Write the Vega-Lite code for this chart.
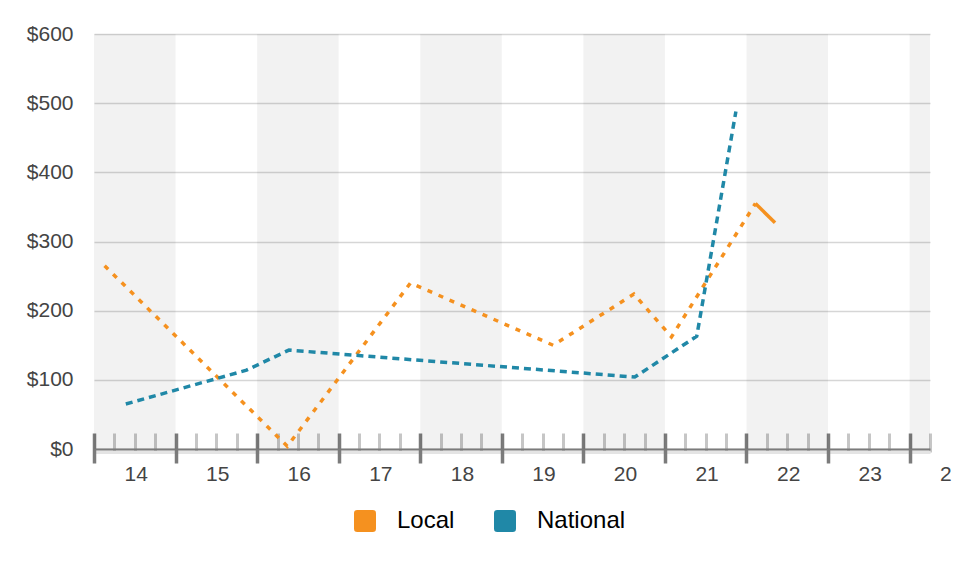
{
  "$schema": "https://vega.github.io/schema/vega-lite/v6.json",
  "width": 836,
  "height": 415,
  "autosize": {"type": "none"},
  "padding": {"left": 94, "top": 34, "right": 36, "bottom": 122},
  "config": {
    "view": {"stroke": null},
    "font": "Liberation Sans",
    "axis": {"zindex": 0, "labelFont": "Liberation Sans"}
  },
  "datasets": {
    "bands": [
      {"start": 14, "end": 15},
      {"start": 16, "end": 17},
      {"start": 18, "end": 19},
      {"start": 20, "end": 21},
      {"start": 22, "end": 23},
      {"start": 24, "end": 24.25}
    ],
    "prices": [
      {"series": "Local", "style": "dotted", "day": 14.13, "value": 265},
      {"series": "Local", "style": "dotted", "day": 16.37, "value": 4},
      {"series": "Local", "style": "dotted", "day": 17.88, "value": 240},
      {"series": "Local", "style": "dotted", "day": 19.63, "value": 150},
      {"series": "Local", "style": "dotted", "day": 20.62, "value": 224},
      {"series": "Local", "style": "dotted", "day": 21.08, "value": 162},
      {"series": "Local", "style": "dotted", "day": 22.11, "value": 355},
      {"series": "Local", "style": "solid", "day": 22.11, "value": 355},
      {"series": "Local", "style": "solid", "day": 22.35, "value": 327},
      {"series": "National", "style": "dotted", "day": 14.39, "value": 65},
      {"series": "National", "style": "dotted", "day": 15.87, "value": 114},
      {"series": "National", "style": "dotted", "day": 16.39, "value": 143},
      {"series": "National", "style": "dotted", "day": 20.63, "value": 104},
      {"series": "National", "style": "dotted", "day": 21.39, "value": 163},
      {"series": "National", "style": "dotted", "day": 21.87, "value": 488}
    ]
  },
  "layer": [
    {
      "data": {"name": "bands"},
      "mark": {"type": "rect", "fill": "#000000", "fillOpacity": 0.05},
      "encoding": {
        "x": {
          "field": "start",
          "type": "quantitative",
          "scale": {"domain": [14, 24.25], "nice": false, "zero": false},
          "axis": {
            "orient": "bottom",
            "title": null,
            "grid": false,
            "labels": false,
            "offset": 3,
            "values": [14.25, 14.5, 14.75, 15.25, 15.5, 15.75, 16.25, 16.5, 16.75, 17.25, 17.5, 17.75, 18.25, 18.5, 18.75, 19.25, 19.5, 19.75, 20.25, 20.5, 20.75, 21.25, 21.5, 21.75, 22.25, 22.5, 22.75, 23.25, 23.5, 23.75, 24.25],
            "tickSize": -19,
            "tickWidth": 3,
            "tickColor": "#c6c6c6",
            "domain": true,
            "domainColor": "#e4e4e4",
            "domainWidth": 3
          }
        },
        "x2": {"field": "end"}
      }
    },
    {
      "data": {"name": "prices"},
      "transform": [{"filter": "datum.style == 'dotted'"}],
      "mark": {"type": "line", "strokeWidth": 3.5},
      "encoding": {
        "x": {
          "field": "day",
          "type": "quantitative",
          "axis": {
            "orient": "bottom",
            "title": null,
            "grid": false,
            "domain": false,
            "offset": -16,
            "values": [14, 15, 16, 17, 18, 19, 20, 21, 22, 23, 24],
            "tickSize": 30,
            "tickWidth": 3.5,
            "tickColor": "#7b7b7b",
            "labelExpr": "datum.value == 24 ? '2' : datum.label",
            "labelAlign": "left",
            "labelOffset": 30,
            "labelPadding": 0,
            "labelFontSize": 21,
            "labelColor": "#444444",
            "labelOverlap": false,
            "labelFlush": false,
            "labelBound": false
          }
        },
        "y": {
          "field": "value",
          "type": "quantitative",
          "scale": {"domain": [0, 600], "nice": false},
          "axis": {
            "orient": "left",
            "title": null,
            "values": [0, 100, 200, 300, 400, 500, 600],
            "labelExpr": "'$' + datum.value",
            "labelFontSize": 21,
            "labelColor": "#444444",
            "labelPadding": 21,
            "ticks": false,
            "domain": false,
            "grid": true,
            "gridColor": "#d6d6d6",
            "gridWidth": 1.5
          }
        },
        "color": {
          "field": "series",
          "type": "nominal",
          "scale": {"domain": ["Local", "National"], "range": ["#f5911f", "#2088a7"]},
          "legend": {
            "title": null,
            "orient": "none",
            "direction": "horizontal",
            "legendX": 259,
            "legendY": 475,
            "padding": 0,
            "symbolType": "M -0.7,-1 H 0.7 Q 1,-1 1,-0.7 V 0.7 Q 1,1 0.7,1 H -0.7 Q -1,1 -1,0.7 V -0.7 Q -1,-1 -0.7,-1 Z",
            "symbolSize": 484,
            "symbolStrokeWidth": 0,
            "labelFontSize": 24,
            "labelColor": "#000000",
            "labelOffset": 20,
            "columnPadding": 38,
            "encode": {
              "symbols": {
                "update": {
                  "fill": {"scale": "color", "field": "value"},
                  "strokeWidth": {"value": 0},
                  "opacity": {"value": 1}
                }
              }
            }
          }
        },
        "strokeDash": {
          "field": "series",
          "type": "nominal",
          "scale": {"domain": ["Local", "National"], "range": [[5, 7], [7, 5]]},
          "legend": null
        }
      }
    },
    {
      "data": {"name": "prices"},
      "transform": [{"filter": "datum.style == 'solid'"}],
      "mark": {"type": "line", "strokeWidth": 3.5},
      "encoding": {
        "x": {
          "field": "day",
          "type": "quantitative",
          "axis": {
            "orient": "bottom",
            "title": null,
            "grid": false,
            "labels": false,
            "ticks": false,
            "domain": true,
            "domainColor": "#7b7b7b",
            "domainWidth": 2
          }
        },
        "y": {"field": "value", "type": "quantitative"},
        "color": {"field": "series", "type": "nominal"}
      }
    }
  ],
  "resolve": {"axis": {"x": "independent"}}
}
